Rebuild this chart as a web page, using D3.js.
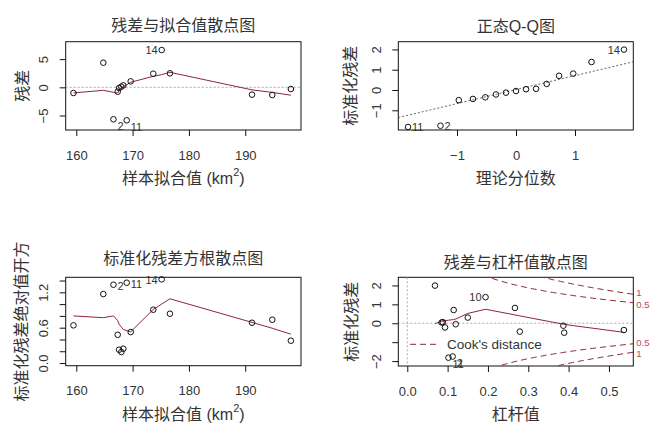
<!DOCTYPE html>
<html>
<head>
<meta charset="UTF-8">
<title>回归诊断图</title>
<script src="https://cdn.jsdelivr.net/npm/d3@7"></script>
<style>
    body { margin: 0; background: #fff; }
    svg text { font-family: "Liberation Sans", Arial, "Noto Sans CJK SC", sans-serif; fill: #333; }
</style>
</head>
<body>
<script>

// observations, ordered by fitted value
var fitted    = [159.5, 164.8, 166.6, 167.35, 167.6, 168.0, 168.35, 168.95, 169.66, 173.67, 175.16, 176.63, 191.2, 194.8, 198.1];
var resid     = [-1.01, 4.36, -5.67, -0.78, -0.12, 0.11, 0.35, -5.85, 1.06, 2.41, 6.61, 2.48, -1.3, -1.36, -0.3];
var stdResid  = [-0.36, 1.38, -1.76, -0.22, -0.05, 0.04, 0.06, -1.82, 0.30, 0.81, 1.99, 0.70, -0.44, -0.50, -0.13];
var sqrtStd   = [0.64, 1.171, 1.329, 0.48, 0.226, 0.187, 0.243, 1.363, 0.526, 0.905, 1.42, 0.837, 0.684, 0.735, 0.379];
var leverage  = [0.537, 0.194, 0.1125, 0.0935, 0.12, 0.085, 0.088, 0.102, 0.150, 0.267, 0.0687, 0.115, 0.279, 0.389, 0.387];
var obsId     = ["", "10", "2", "", "", "", "", "11", "", "", "14", "", "", "", ""];

// lowess curves
var smoothResid = [-1.0, -0.53, -0.89, -1.0, -0.5, -0.1, 0.15, 0.45, 0.9, 1.95, 2.24, 2.66, -0.45, -0.9, -1.4];
var smoothScale = [0.80, 0.77, 0.80, 0.72, 0.66, 0.61, 0.57, 0.55, 0.53, 0.91, 1.0, 1.09, 0.69, 0.59, 0.49];
var smoothLevX  = [0.0687, 0.085, 0.088, 0.0935, 0.102, 0.1125, 0.115, 0.12, 0.150, 0.194, 0.267, 0.279, 0.387, 0.389, 0.537];
var smoothLevY  = [-0.02, 0.10, 0.12, 0.14, 0.16, 0.19, 0.20, 0.22, 0.52, 0.74, 0.44, 0.39, -0.05, -0.06, -0.48];

// normal Q-Q
var theoQuant = [-1.83, -1.28, -0.97, -0.73, -0.52, -0.34, -0.17, 0, 0.17, 0.34, 0.52, 0.73, 0.97, 1.28, 1.83];
var qqIntercept = 0.02, qqSlope = 0.69;

// Cook's distance contours
var cookLevels = [0.5, 1];
var nParams = 3;

// labelled points per panel
var labelsTop = ["14", "2", "11"];
var labelsLev = ["10", "2", "11"];

var redLine = "#8b2635",
    redText = "#b8485a";

var svg = d3.select("body").append("svg")
            .attr("width", 665)
            .attr("height", 437);

var clipCount = 0;

//Builds one panel: box, scales, axes, titles. Returns scales and the clipped group.
function makePanel(p) {
    var x = d3.scaleLinear().domain(p.xDomain).range([p.l, p.r]);
    var y = d3.scaleLinear().domain(p.yDomain).range([p.b, p.t]);

    var id = "clip" + (clipCount++);
    svg.append("clipPath").attr("id", id)
       .append("rect")
         .attr("x", p.l).attr("y", p.t)
         .attr("width", p.r - p.l).attr("height", p.b - p.t);

    var xAxis = svg.append("g")
        .attr("transform", "translate(0," + p.b + ")")
        .call(d3.axisBottom(x).tickValues(p.xTicks).tickSize(6).tickFormat(p.xFormat || d3.format("")));
    xAxis.select(".domain").remove();
    xAxis.selectAll("line").attr("stroke", "#111");
    xAxis.selectAll("text")
         .attr("y", 25).attr("dy", "0.35em")
         .attr("font-size", 13).attr("fill", "#333");

    var yAxis = svg.append("g")
        .attr("transform", "translate(" + p.l + ",0)")
        .call(d3.axisLeft(y).tickValues(p.yTicks).tickSize(6)
            .tickFormat(function(d) { return p.yLabels.indexOf(d) >= 0 ? (p.yFormat || d3.format(""))(d) : ""; }));
    yAxis.select(".domain").remove();
    yAxis.selectAll("line").attr("stroke", "#111");
    yAxis.selectAll("text")
         .attr("x", 0).attr("y", -22).attr("dy", null)
         .attr("dominant-baseline", "central")
         .attr("text-anchor", "middle")
         .attr("transform", "rotate(-90)")
         .attr("font-size", 13).attr("fill", "#333");

    svg.append("rect")
       .attr("x", p.l).attr("y", p.t)
       .attr("width", p.r - p.l).attr("height", p.b - p.t)
       .attr("fill", "none").attr("stroke", "#111");

    svg.append("text")
       .attr("x", (p.l + p.r) / 2).attr("y", p.t - p.titleGap)
       .attr("text-anchor", "middle").attr("dominant-baseline", "central")
       .attr("font-size", 16)
       .text(p.title);

    var xt = svg.append("text")
       .attr("x", (p.l + p.r) / 2).attr("y", p.b + 48)
       .attr("text-anchor", "middle").attr("dominant-baseline", "central")
       .attr("font-size", 16);
    if (p.xSup) {
        xt.append("tspan").text(p.xTitle);
        xt.append("tspan").attr("dy", -6).attr("font-size", 11).text("2");
        xt.append("tspan").attr("dy", 6).text(")");
    } else {
        xt.text(p.xTitle);
    }

    svg.append("text")
       .attr("transform", "translate(" + (p.l - p.yTitleGap) + "," + ((p.t + p.b) / 2) + ") rotate(-90)")
       .attr("text-anchor", "middle").attr("dominant-baseline", "central")
       .attr("font-size", 16)
       .text(p.yTitle);

    var g = svg.append("g").attr("clip-path", "url(#" + id + ")");
    return { x: x, y: y, g: g, p: p };
}

function hLine(panel, v, color, dash) {
    panel.g.append("line")
        .attr("x1", panel.p.l).attr("x2", panel.p.r)
        .attr("y1", panel.y(v)).attr("y2", panel.y(v))
        .attr("stroke", color).attr("stroke-dasharray", dash);
}

function drawPoints(panel, xs, ys) {
    svg.append("g").selectAll("circle")
       .data(xs)
       .enter().append("circle")
         .attr("cx", function(d) { return panel.x(d); })
         .attr("cy", function(d, i) { return panel.y(ys[i]); })
         .attr("r", 2.8)
         .attr("fill", "none")
         .attr("stroke", "#111");
}

function drawSmooth(panel, xs, ys) {
    var line = d3.line()
        .x(function(d) { return panel.x(d); })
        .y(function(d, i) { return panel.y(ys[i]); });
    panel.g.append("path")
         .attr("d", line(xs))
         .attr("fill", "none")
         .attr("stroke", redLine);
}

//Labels the chosen observations; left of the point when it is in the right half of the labelled range.
function drawLabels(panel, xs, ys, ids, names, dyFor) {
    var idx = ids.map(function(s) { return names.indexOf(s); });
    var ext = d3.extent(idx, function(i) { return xs[i]; });
    var mid = (ext[0] + ext[1]) / 2;
    idx.forEach(function(i) {
        var left = xs[i] > mid;
        svg.append("text")
           .attr("x", panel.x(xs[i]) + (left ? -4 : 4))
           .attr("y", panel.y(ys[i]) + (dyFor ? dyFor(ys[i]) : 0))
           .attr("text-anchor", left ? "end" : "start")
           .attr("dominant-baseline", "central")
           .attr("font-size", 11)
           .text(names[i]);
    });
}

// ---- panel 1: residuals vs fitted
var p1 = makePanel({
    l: 65.7, r: 301, t: 41.7, b: 130,
    xDomain: [158.12, 199.9], yDomain: [-7.57, 8.09],
    xTicks: [160, 170, 180, 190], yTicks: [-5, 0, 5], yLabels: [-5, 0, 5],
    title: "残差与拟合值散点图", titleGap: 16.4,
    xTitle: "样本拟合值 (km", xSup: true,
    yTitle: "残差", yTitleGap: 43
});
hLine(p1, 0, "#aaa", "2,2");
drawSmooth(p1, fitted, smoothResid);
drawPoints(p1, fitted, resid);
drawLabels(p1, fitted, resid, labelsTop, obsId, function(v) { return v < 0 ? 7 : 0; });

// ---- panel 2: normal Q-Q
var qqOrder = d3.range(stdResid.length).sort(function(a, b) { return stdResid[a] - stdResid[b]; });
var sortedStd = qqOrder.map(function(i) { return stdResid[i]; });
var sortedIds = qqOrder.map(function(i) { return obsId[i]; });
var p2 = makePanel({
    l: 398.3, r: 633.3, t: 41.7, b: 130,
    xDomain: [-1.995, 1.988], yDomain: [-1.97, 2.38],
    xTicks: [-1, 0, 1], yTicks: [-1, 0, 1, 2], yLabels: [-1, 0, 1, 2],
    title: "正态Q-Q图", titleGap: 15.4,
    xTitle: "理论分位数",
    yTitle: "标准化残差", yTitleGap: 48
});
p2.g.append("line")
    .attr("x1", p2.x(p2.p.xDomain[0])).attr("y1", p2.y(qqIntercept + qqSlope * p2.p.xDomain[0]))
    .attr("x2", p2.x(p2.p.xDomain[1])).attr("y2", p2.y(qqIntercept + qqSlope * p2.p.xDomain[1]))
    .attr("stroke", "#666").attr("stroke-dasharray", "2,2");
drawPoints(p2, theoQuant, sortedStd);
drawLabels(p2, theoQuant, sortedStd, labelsTop, sortedIds);

// ---- panel 3: scale-location
var p3 = makePanel({
    l: 65.7, r: 301, t: 277.3, b: 365.7,
    xDomain: [158.12, 199.9], yDomain: [-0.045, 1.455],
    xTicks: [160, 170, 180, 190],
    yTicks: [0, 0.2, 0.4, 0.6, 0.8, 1.0, 1.2, 1.4], yLabels: [0, 0.6, 1.2], yFormat: d3.format(".1f"),
    title: "标准化残差方根散点图", titleGap: 18.6,
    xTitle: "样本拟合值 (km", xSup: true,
    yTitle: "标准化残差绝对值开方", yTitleGap: 44
});
drawSmooth(p3, fitted, smoothScale);
drawPoints(p3, fitted, sqrtStd);
drawLabels(p3, fitted, sqrtStd, labelsTop, obsId, function(v) { return 1; });

// ---- panel 4: residuals vs leverage
var p4 = makePanel({
    l: 398.3, r: 633.3, t: 277.3, b: 366,
    xDomain: [-0.0223, 0.5604], yDomain: [-2.26, 2.43],
    xTicks: [0, 0.1, 0.2, 0.3, 0.4, 0.5], xFormat: d3.format(".1f"),
    yTicks: [-2, -1, 0, 1, 2], yLabels: [-2, 0, 1, 2],
    title: "残差与杠杆值散点图", titleGap: 15,
    xTitle: "杠杆值",
    yTitle: "标准化残差", yTitleGap: 47
});
hLine(p4, 0, "#aaa", "2,2");
p4.g.append("line")
    .attr("x1", p4.x(0)).attr("x2", p4.x(0))
    .attr("y1", p4.p.t).attr("y2", p4.p.b)
    .attr("stroke", "#aaa").attr("stroke-dasharray", "2,2");

var hGrid = d3.range(0.01, p4.p.xDomain[1] + 0.005, 0.005);
cookLevels.forEach(function(D) {
    [1, -1].forEach(function(sign) {
        var ys = hGrid.map(function(h) { return sign * Math.sqrt(D * nParams * (1 - h) / h); });
        var line = d3.line()
            .x(function(d) { return p4.x(d); })
            .y(function(d, i) { return p4.y(ys[i]); });
        p4.g.append("path")
            .attr("d", line(hGrid))
            .attr("fill", "none")
            .attr("stroke", redLine)
            .attr("stroke-dasharray", "6,4");
        // contour label at the right edge, nudged so the 1 and 0.5 labels do not collide
        var hEnd = p4.p.xDomain[1];
        var nudge = (D === 1 ? -1.3 : 1.3) * sign;
        svg.append("text")
            .attr("x", p4.p.r + 3)
            .attr("y", p4.y(sign * Math.sqrt(D * nParams * (1 - hEnd) / hEnd)) + nudge)
            .attr("dominant-baseline", "central")
            .attr("font-size", 9.5)
            .style("fill", redText)
            .text(D);
    });
});

drawSmooth(p4, smoothLevX, smoothLevY);
drawPoints(p4, leverage, stdResid);
drawLabels(p4, leverage, stdResid, labelsLev, obsId, function(v) { return v < 0 ? 6 : 0; });

// legend
svg.append("line")
   .attr("x1", 410).attr("x2", 437)
   .attr("y1", 344.3).attr("y2", 344.3)
   .attr("stroke", redLine).attr("stroke-dasharray", "6,4");
svg.append("text")
   .attr("x", 447).attr("y", 344.3)
   .attr("dominant-baseline", "central")
   .attr("font-size", 13.5)
   .text("Cook's distance");

</script>
</body>
</html>
